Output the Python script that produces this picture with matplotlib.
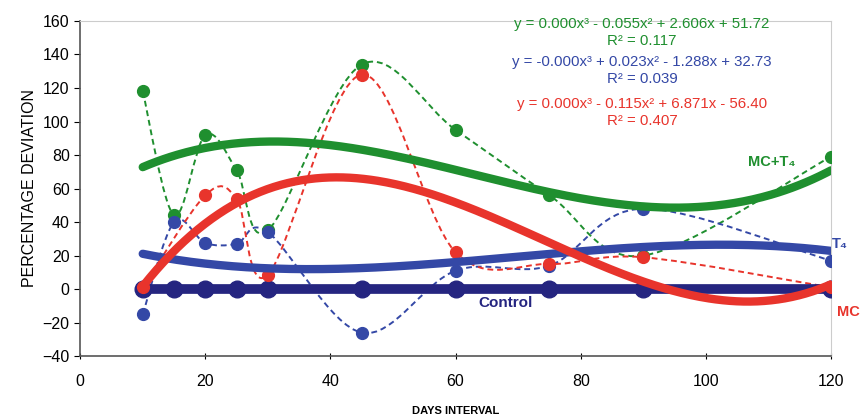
import numpy as np
import matplotlib
matplotlib.use('Agg')
import matplotlib.pyplot as plt
from matplotlib.path import Path
from matplotlib.patches import PathPatch

plt.rcParams['font.family'] = ['Liberation Sans', 'DejaVu Sans']

# data
days = [10, 15, 20, 25, 30, 45, 60, 75, 90, 120]
mc_t4 = [118, 44, 92, 71, 35, 134, 95, 56, 20, 79]
t4 = [-15, 40, 27.5, 27, 34, -26, 11, 14, 48, 17]
mc_days = [10, 20, 25, 30, 45, 60, 75, 90, 120]
mc = [1, 56, 54, 8.5, 128, 22, 15, 19, 1]
control = [0, 0, 0, 0, 0, 0, 0, 0, 0, 0]

eq_mc_t4 = ['y = 0.000x\u00b3 - 0.055x\u00b2 + 2.606x + 51.72', 'R\u00b2 = 0.117']
eq_t4 = ['y = -0.000x\u00b3 + 0.023x\u00b2 - 1.288x + 32.73', 'R\u00b2 = 0.039']
eq_mc = ['y = 0.000x\u00b3 - 0.115x\u00b2 + 6.871x - 56.40', 'R\u00b2 = 0.407']

GREEN = '#1f8f2f'
BLUE = '#3448a6'
RED = '#e8342c'
NAVY = '#252580'


def smooth_path(x, y):
    # excel style smoothed line: catmull-rom segments as cubic beziers
    x = np.asarray(x, float)
    y = np.asarray(y, float)
    verts = [(x[0], y[0])]
    codes = [Path.MOVETO]
    n = len(x)
    for i in range(n - 1):
        i0 = max(i - 1, 0)
        i3 = min(i + 2, n - 1)
        c1 = (x[i] + (x[i + 1] - x[i0]) / 6, y[i] + (y[i + 1] - y[i0]) / 6)
        c2 = (x[i + 1] - (x[i3] - x[i]) / 6, y[i + 1] - (y[i3] - y[i]) / 6)
        verts += [c1, c2, (x[i + 1], y[i + 1])]
        codes += [Path.CURVE4] * 3
    return Path(verts, codes)


fig = plt.figure(figsize=(8.62, 4.19), dpi=100)
ax = fig.add_axes([0.093, 0.150, 0.871, 0.800])

xs = np.linspace(10, 120, 300)

series = [(days, mc_t4, GREEN), (days, t4, BLUE), (mc_days, mc, RED)]
for x, y, col in series:
    patch = PathPatch(smooth_path(x, y), facecolor='none', edgecolor=col,
                      lw=1.4, ls=(0, (3, 2)), zorder=3)
    ax.add_patch(patch)

# control line
ax.plot(days, control, color=NAVY, lw=7, zorder=4)
ax.plot(days, control, 'o', color=NAVY, ms=12, zorder=5)

for x, y, col in series:
    ax.plot(x, y, 'o', color=col, ms=8.5, zorder=6)

# cubic trend lines
for x, y, col in series:
    coef = np.polyfit(x, y, 3)
    ax.plot(xs, np.polyval(coef, xs), color=col, lw=6, solid_capstyle='round', zorder=7)

ax.set_xlim(0, 120)
ax.set_ylim(-40, 160)
ax.set_xticks(range(0, 121, 20))
ax.set_yticks(range(-40, 161, 20))
ax.tick_params(axis='x', labelsize=11.5, pad=11, length=4, direction='inout')
ax.tick_params(axis='y', labelsize=11.5, length=4)

for s in ['top', 'right']:
    ax.spines[s].set_color('#cccccc')
    ax.spines[s].set_linewidth(0.8)
for s in ['left', 'bottom']:
    ax.spines[s].set_color('#555555')
    ax.spines[s].set_linewidth(1.2)

ax.set_ylabel('PERCENTAGE DEVIATION', fontsize=11.5, labelpad=4)
ax.set_xlabel('DAYS INTERVAL', fontsize=8, fontweight='bold', labelpad=12)

# equations
eqs = [(eq_mc_t4, GREEN, 24), (eq_t4, BLUE, 62), (eq_mc, RED, 104)]
for lines, col, ypix in eqs:
    fig.text(642 / 862, 1 - ypix / 419, lines[0], color=col, fontsize=10.8,
             ha='center', va='center')
    fig.text(642 / 862, 1 - (ypix + 17) / 419, lines[1], color=col, fontsize=10.8,
             ha='center', va='center')

ax.text(110.5, 76, 'MC+T\u2084', color=GREEN, fontsize=10.5, fontweight='bold',
        ha='center', va='center', zorder=8)
ax.text(120.2, 27, 'T\u2084', color=BLUE, fontsize=10.5, fontweight='bold',
        ha='left', va='center', clip_on=False)
ax.text(121, -13.5, 'MC', color=RED, fontsize=10.5, fontweight='bold',
        ha='left', va='center', clip_on=False)
ax.text(68, -8.5, 'Control', color=NAVY, fontsize=11, fontweight='bold',
        ha='center', va='center')

fig.savefig('out.png', dpi=100)
